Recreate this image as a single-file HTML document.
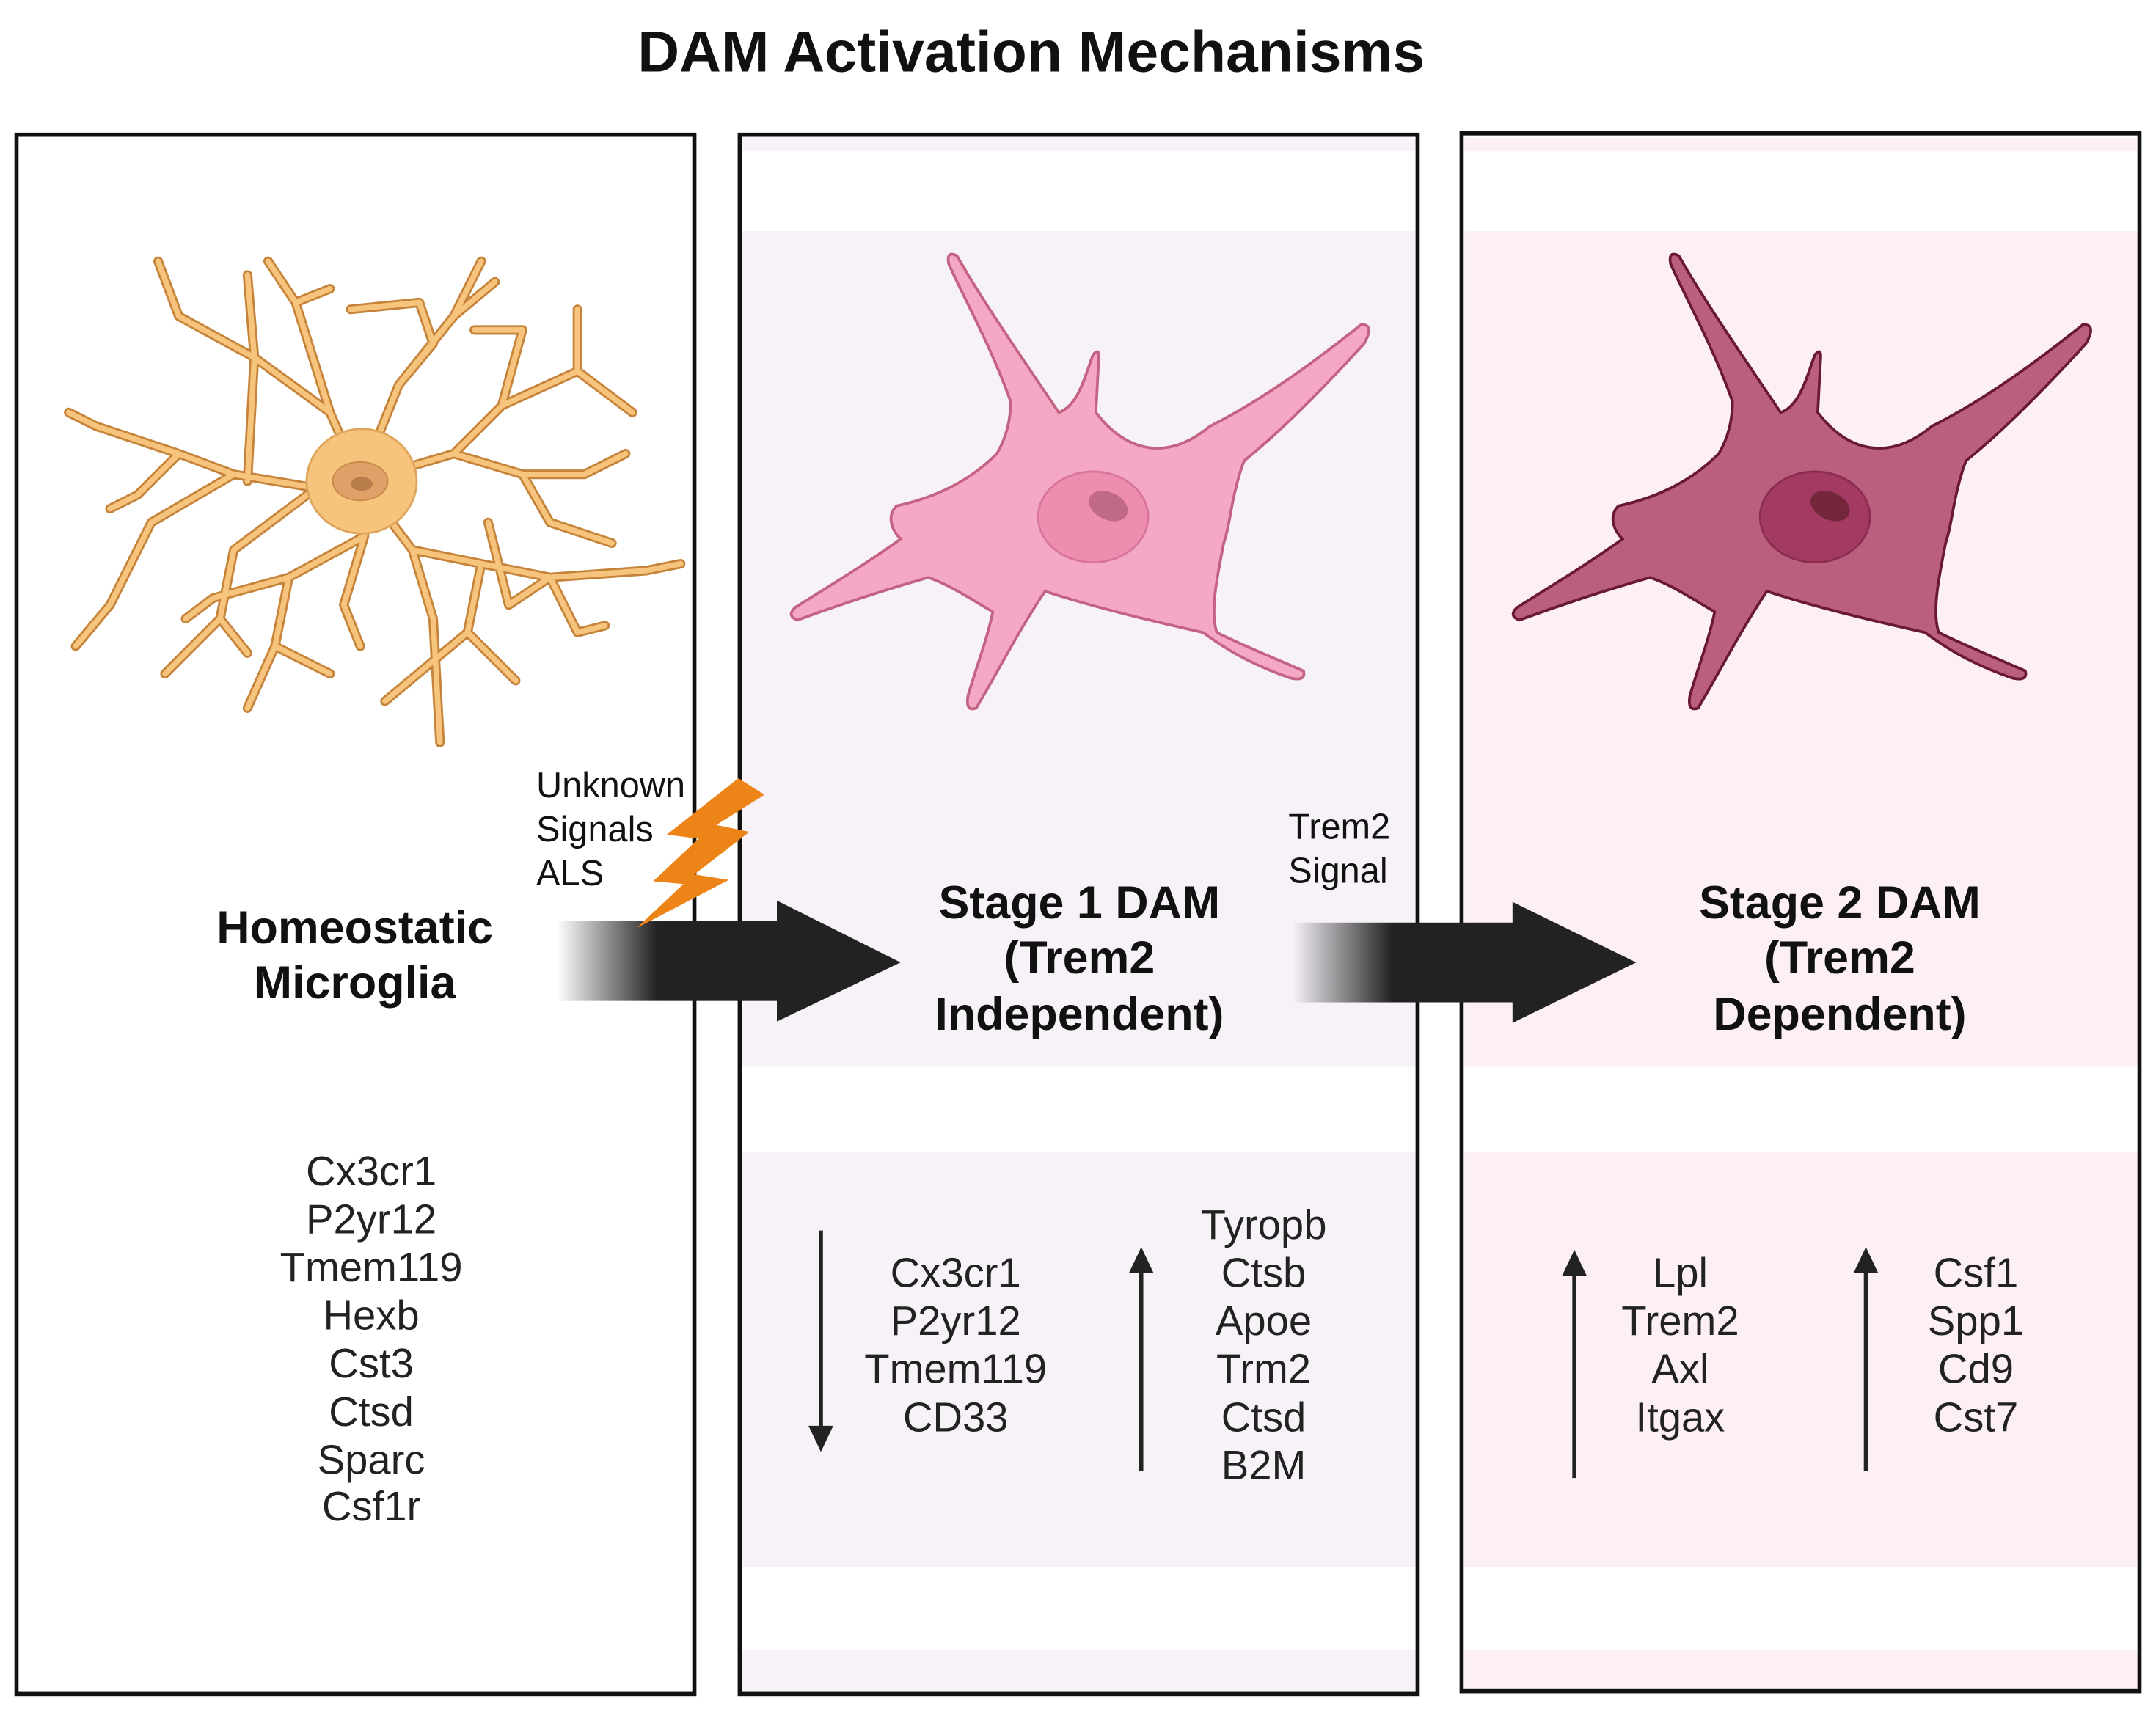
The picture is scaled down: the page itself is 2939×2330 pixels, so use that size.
<!DOCTYPE html>
<html><head><meta charset="utf-8"><style>
html,body{margin:0;padding:0;background:#fff;}
svg{display:block;}
text{font-family:"Liberation Sans",Arial,sans-serif;}
</style></head><body>
<svg width="2939" height="2330" viewBox="0 0 1568 1243" preserveAspectRatio="none" xmlns="http://www.w3.org/2000/svg">
<defs>
<linearGradient id="g1" x1="0" x2="1" y1="0" y2="0">
<stop offset="0" stop-color="#222" stop-opacity="0"/>
<stop offset="0.45" stop-color="#222" stop-opacity="1"/>
<stop offset="1" stop-color="#222"/>
</linearGradient>
</defs>
<rect width="1568" height="1243" fill="#fff"/>
<text x="750" y="52" font-size="42" font-weight="bold" text-anchor="middle" fill="#111">DAM Activation Mechanisms</text>

<g fill="#f6f2f8">
<rect x="540" y="100" width="490" height="10"/>
<rect x="540" y="168" width="490" height="608"/>
<rect x="540" y="838" width="490" height="302"/>
<rect x="540" y="1200" width="490" height="32"/>
</g>
<g fill="#fcf0f5">
<rect x="1065" y="100" width="490" height="10"/>
<rect x="1065" y="168" width="490" height="608"/>
<rect x="1065" y="838" width="490" height="302"/>
<rect x="1065" y="1200" width="490" height="30"/>
</g>
<g fill="none" stroke="#111" stroke-width="3">
<rect x="12" y="98" width="493" height="1134"/>
<rect x="538" y="98" width="493" height="1134"/>
<rect x="1063" y="97" width="493" height="1133"/>
</g>

<g fill="none" stroke-linecap="round" stroke-linejoin="round">
<g id="mg">
<path d="M262 350 L240 300 L215 220 L195 190 M215 220 L240 210 M240 300 L185 260 L180 200 M185 260 L130 230 L115 190 M185 260 L180 350 M262 350 L290 280 L330 230 L350 190 M330 230 L360 205 M290 280 L315 250 L305 220 L255 225 M262 350 L330 330 L365 295 L420 270 L420 225 M365 295 L380 240 L345 240 M420 270 L460 300 M330 330 L380 345 L425 345 L455 330 M380 345 L400 380 L445 395 M262 350 L230 355 L170 345 L130 330 L70 310 L50 300 M130 330 L100 360 L80 370 M170 345 L110 380 L80 440 L55 470 M110 380 L90 420 M262 350 L265 390 L210 420 L155 435 L135 450 M210 420 L200 470 L180 515 M200 470 L240 490 M265 390 L250 440 L262 470 M262 350 L300 400 L350 410 L400 420 L470 415 L495 410 M350 410 L340 460 L280 510 M340 460 L375 495 M400 420 L420 460 L440 455 M300 400 L315 450 L320 540 M230 355 L170 400 L160 450 L120 490 M160 450 L180 475 M400 420 L370 440 L355 380"/>
</g>
</g>
<g fill="none" stroke-linecap="round" stroke-linejoin="round">
<use href="#mg" stroke="#c6843a" stroke-width="7"/>
<use href="#mg" stroke="#f7c47e" stroke-width="4"/>
</g>
<ellipse cx="263" cy="350" rx="40" ry="38" fill="#f7c47e" stroke="#e0a45a" stroke-width="1.5"/>
<ellipse cx="262" cy="350" rx="20" ry="14" fill="#dfa167" stroke="#c98a4a"/>
<ellipse cx="263" cy="352" rx="8" ry="5" fill="#b97d4c"/>

<path id="cellp" d="M735 292 C720 250 700 215 690 192 Q688 182 696 186 C715 220 750 270 770 300 C785 295 790 270 795 258 Q800 252 799 262 L797 300 C820 330 850 335 880 310 C920 290 960 260 990 236 Q1000 236 992 250 C960 285 930 315 905 335 L903 340 C895 365 895 380 890 395 C885 420 880 445 885 460 C905 470 930 480 948 488 Q950 496 938 493 C915 485 895 475 875 460 C830 450 790 440 760 430 C740 460 725 490 710 515 Q702 518 704 506 C710 485 718 465 722 445 C705 435 690 425 675 420 C640 430 610 440 580 451 Q572 448 578 442 C605 425 630 410 655 392 C648 385 645 375 652 368 C680 362 705 350 725 330 C732 318 735 305 735 292 Z" fill="#f5a8c5" stroke="#c36283" stroke-width="2"/>
<ellipse cx="795" cy="376" rx="40" ry="33" fill="#ee8db0" stroke="#d8759a" stroke-width="1.5"/>
<ellipse cx="806" cy="368" rx="15" ry="10" transform="rotate(25 806 368)" fill="#c06a88"/>

<g transform="translate(525,0)">
<path d="M735 292 C720 250 700 215 690 192 Q688 182 696 186 C715 220 750 270 770 300 C785 295 790 270 795 258 Q800 252 799 262 L797 300 C820 330 850 335 880 310 C920 290 960 260 990 236 Q1000 236 992 250 C960 285 930 315 905 335 L903 340 C895 365 895 380 890 395 C885 420 880 445 885 460 C905 470 930 480 948 488 Q950 496 938 493 C915 485 895 475 875 460 C830 450 790 440 760 430 C740 460 725 490 710 515 Q702 518 704 506 C710 485 718 465 722 445 C705 435 690 425 675 420 C640 430 610 440 580 451 Q572 448 578 442 C605 425 630 410 655 392 C648 385 645 375 652 368 C680 362 705 350 725 330 C732 318 735 305 735 292 Z" fill="#bb5f7e" stroke="#6a1a30" stroke-width="2"/>
<ellipse cx="795" cy="376" rx="40" ry="33" fill="#a23a62" stroke="#8c2c52" stroke-width="1.5"/>
<ellipse cx="806" cy="368" rx="15" ry="10" transform="rotate(25 806 368)" fill="#74273a"/>
</g>

<rect x="405" y="670" width="162" height="58" fill="url(#g1)"/>
<polygon points="565,655 655,700 565,743" fill="#222"/>
<rect x="940" y="671" width="162" height="58" fill="url(#g1)"/>
<polygon points="1100,656 1190,700 1100,744" fill="#222"/>

<polygon points="537,566 556,578 521,600 545,605 505,636 530,640 463,675 497,643 475,641 508,610 485,607" fill="#ec8418"/>

<g font-size="26" fill="#111">
<text x="390" y="580">Unknown</text>
<text x="390" y="612">Signals</text>
<text x="390" y="644">ALS</text>
<text x="937" y="610">Trem2</text>
<text x="937" y="642">Signal</text>
</g>
<g font-size="33.5" font-weight="bold" fill="#111" text-anchor="middle">
<text x="258" y="686">Homeostatic</text>
<text x="258" y="726">Microglia</text>
<text x="785" y="668">Stage 1 DAM</text>
<text x="785" y="708">(Trem2</text>
<text x="785" y="749">Independent)</text>
<text x="1338" y="668">Stage 2 DAM</text>
<text x="1338" y="708">(Trem2</text>
<text x="1338" y="749">Dependent)</text>
</g>

<g font-size="30" fill="#222" text-anchor="middle">
<text x="270" y="862">Cx3cr1</text><text x="270" y="897">P2yr12</text><text x="270" y="932">Tmem119</text><text x="270" y="967">Hexb</text><text x="270" y="1002">Cst3</text><text x="270" y="1037">Ctsd</text><text x="270" y="1072">Sparc</text><text x="270" y="1106">Csf1r</text>
<text x="695" y="936">Cx3cr1</text><text x="695" y="971">P2yr12</text><text x="695" y="1006">Tmem119</text><text x="695" y="1041">CD33</text>
<text x="919" y="901">Tyropb</text><text x="919" y="936">Ctsb</text><text x="919" y="971">Apoe</text><text x="919" y="1006">Trm2</text><text x="919" y="1041">Ctsd</text><text x="919" y="1076">B2M</text>
<text x="1222" y="936">Lpl</text><text x="1222" y="971">Trem2</text><text x="1222" y="1006">Axl</text><text x="1222" y="1041">Itgax</text>
<text x="1437" y="936">Csf1</text><text x="1437" y="971">Spp1</text><text x="1437" y="1006">Cd9</text><text x="1437" y="1041">Cst7</text>
</g>

<g stroke="#222" stroke-width="3">
<line x1="597" y1="895" x2="597" y2="1040"/>
<line x1="830" y1="1070" x2="830" y2="922"/>
<line x1="1145" y1="1075" x2="1145" y2="924"/>
<line x1="1357" y1="1070" x2="1357" y2="922"/>
</g>
<g fill="#222">
<polygon points="588,1037 606,1037 597,1056"/>
<polygon points="821,926 839,926 830,907"/>
<polygon points="1136,928 1154,928 1145,909"/>
<polygon points="1348,926 1366,926 1357,907"/>
</g>
</svg>
</body></html>
